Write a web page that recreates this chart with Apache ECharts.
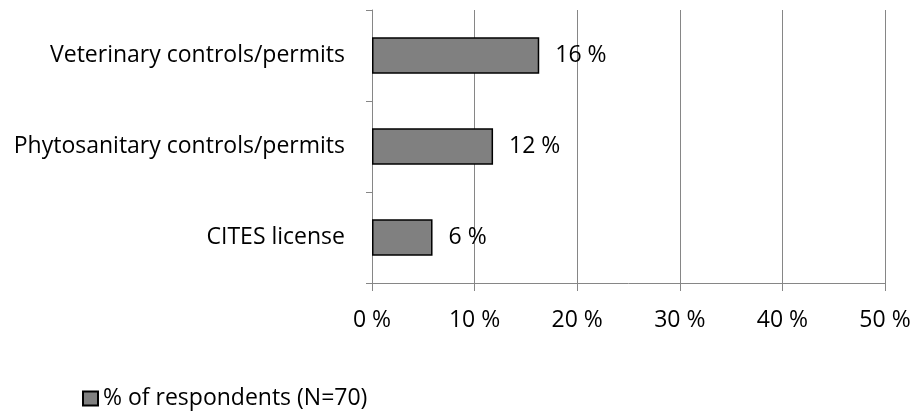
<!DOCTYPE html>
<html>
<head>
<meta charset="utf-8">
<script src="https://cdn.jsdelivr.net/npm/echarts@6/dist/echarts.min.js"></script>
<style>
  html, body { margin: 0; padding: 0; background: #fff; }
  #main { width: 915px; height: 414px; }
</style>
</head>
<body>
<div id="main"></div>
<script>
  // categories bottom-to-top (category axis starts at the bottom)
  const categories = ['CITES license', 'Phytosanitary controls/permits', 'Veterinary controls/permits']
  const shares = [5.9, 11.8, 16.3]
  const seriesName = '% of respondents (N=70)'
  const xTicks = [0, 10, 20, 30, 40, 50]

  const font = '"Open Sans", sans-serif'
  const axisGray = '#868686'
  const fs = 23

  const chart = echarts.init(document.getElementById('main'))
  chart.setOption({
    animation: false,
    textStyle: { fontFamily: font },
    grid: { left: 372, right: 30, top: 10, bottom: 131 },
    legend: {
      left: 82,
      top: 387,
      padding: 0,
      icon: 'rect',
      itemWidth: 15,
      itemHeight: 14,
      itemGap: 6,
      textStyle: { fontSize: fs, color: '#000', fontFamily: font },
      data: [seriesName]
    },
    xAxis: {
      type: 'value',
      min: xTicks[0],
      max: xTicks[xTicks.length - 1],
      interval: 10,
      axisLine: { show: true, lineStyle: { color: axisGray, width: 1 } },
      axisTick: { show: true, length: 8, lineStyle: { color: axisGray } },
      splitLine: { show: true, lineStyle: { color: axisGray, width: 1 } },
      axisLabel: {
        margin: 26,
        fontSize: fs,
        color: '#000',
        formatter: v => v + ' %'
      }
    },
    yAxis: {
      type: 'category',
      data: categories,
      axisLine: { show: true, lineStyle: { color: axisGray, width: 1 } },
      axisTick: { show: true, length: 6, lineStyle: { color: axisGray } },
      axisLabel: { margin: 27, fontSize: fs, color: '#000' }
    },
    series: [{
      name: seriesName,
      type: 'bar',
      data: shares,
      barWidth: '40%',
      itemStyle: { color: '#808080', borderColor: '#000', borderWidth: 1.5 },
      label: {
        show: true,
        position: 'right',
        distance: 16,
        fontSize: fs,
        color: '#000',
        formatter: p => Math.round(p.value) + ' %'
      }
    }]
  })
</script>
</body>
</html>
